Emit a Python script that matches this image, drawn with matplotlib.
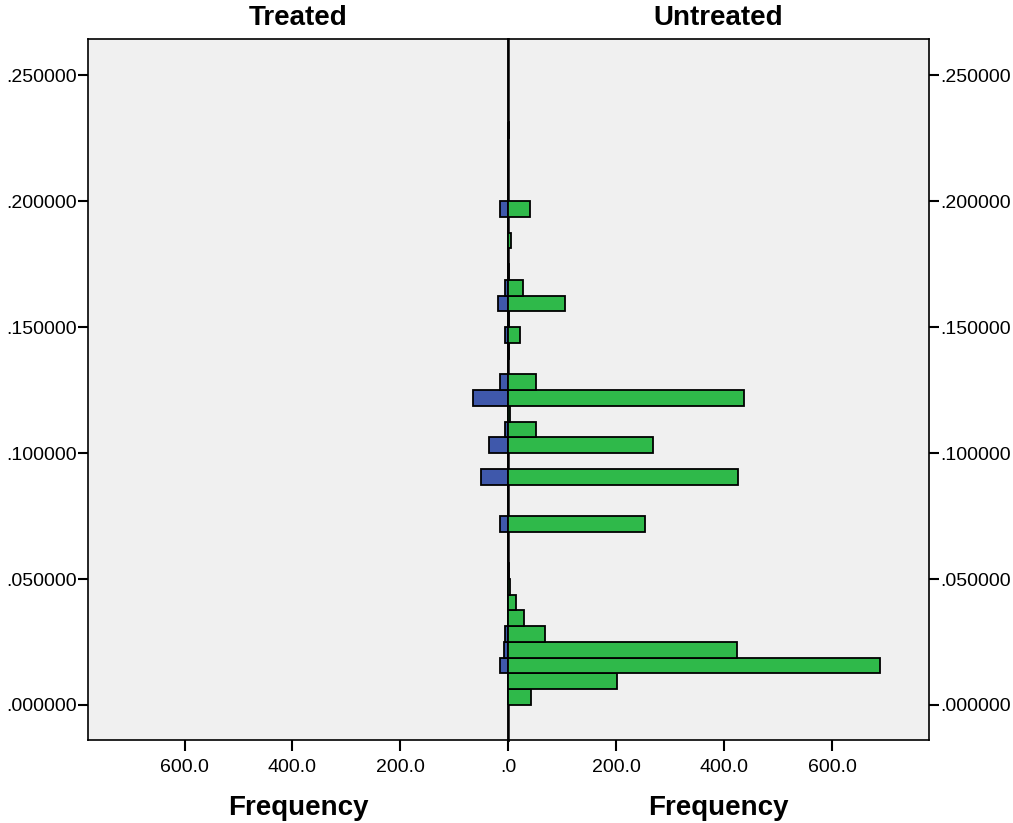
import matplotlib
matplotlib.use("Agg")
import matplotlib.pyplot as plt
import numpy as np

plt.rcParams['font.family'] = ['Liberation Sans', 'DejaVu Sans']

# Histogram bins (lower edges) of width 0.00625
bin_width = 0.00625
bin_start = [i * bin_width for i in range(37)]

untreated = [43, 202, 688, 424, 68, 30, 15, 3, 1, 0,
             0, 253, 0, 0, 426, 0, 269, 51, 3, 436,
             52, 0, 2, 23, 2, 106, 28, 1, 0, 5,
             0, 40, 0, 0, 0, 0, 1]
treated = [0, 0, 15, 8, 5, 0, 0, 0, 0, 0,
           0, 15, 0, 0, 51, 0, 35, 5, 0, 65,
           15, 0, 0, 5, 0, 18, 5, 0, 0, 0,
           0, 14, 0, 0, 0, 0, 0]

y_ticks = [0.0, 0.05, 0.10, 0.15, 0.20, 0.25]
x_ticks_left = [200, 400, 600]
x_ticks_right = [0, 200, 400, 600]

blue = '#3F58AB'
green = '#2FB94A'
bg = '#F0F0F0'

W, H = 1013, 823
fig = plt.figure(figsize=(W / 100, H / 100), dpi=100)
axL = fig.add_axes([88 / W, (H - 740) / H, 420 / W, 701 / H])
axR = fig.add_axes([508 / W, (H - 740) / H, 421 / W, 701 / H], sharey=axL)

xmax = 779
ylim = (-0.01389, 0.26429)

for ax, vals, col in ((axL, treated, blue), (axR, untreated, green)):
    ax.set_facecolor(bg)
    ax.barh(bin_start, vals, height=bin_width, align='edge', color=col,
            edgecolor='black', linewidth=1.3, zorder=3)
    for s in ax.spines.values():
        s.set_linewidth(1.2)
        s.set_color('black')

axL.set_xlim(xmax, 0)
axR.set_xlim(0, xmax)
axL.set_ylim(*ylim)

def ylab(v):
    return f"{v:.6f}"[1:] if v < 1 else f"{v:.6f}"

axL.set_yticks(y_ticks)
axL.set_yticklabels([ylab(v) for v in y_ticks])
axR.yaxis.tick_right()
axR.set_yticks(y_ticks)
axR.set_yticklabels([ylab(v) for v in y_ticks])
axR.tick_params(axis='y', labelright=True, labelleft=False)

def xlab(v):
    return ".0" if v == 0 else f"{v:.1f}"

axL.set_xticks(x_ticks_left)
axL.set_xticklabels([xlab(v) for v in x_ticks_left])
axR.set_xticks(x_ticks_right)
axR.set_xticklabels([xlab(v) for v in x_ticks_right])

for ax in (axL, axR):
    ax.tick_params(axis='y', direction='out', length=7, width=1.5,
                   labelsize=14, colors='black', pad=1)
    ax.tick_params(axis='x', direction='out', length=8, width=1.5,
                   labelsize=14, colors='black', pad=6)

axL.spines['right'].set_linewidth(1.8)
axR.spines['left'].set_linewidth(1.8)

fig.text(298 / W, 1 - 18 / H, 'Treated', ha='center', va='center',
         fontsize=20, fontweight='bold')
fig.text(718 / W, 1 - 18 / H, 'Untreated', ha='center', va='center',
         fontsize=20, fontweight='bold')
fig.text(298 / W, 1 - 808 / H, 'Frequency', ha='center', va='center',
         fontsize=20, fontweight='bold')
fig.text(718 / W, 1 - 808 / H, 'Frequency', ha='center', va='center',
         fontsize=20, fontweight='bold')

fig.savefig('out.png', dpi=100, facecolor='white')
